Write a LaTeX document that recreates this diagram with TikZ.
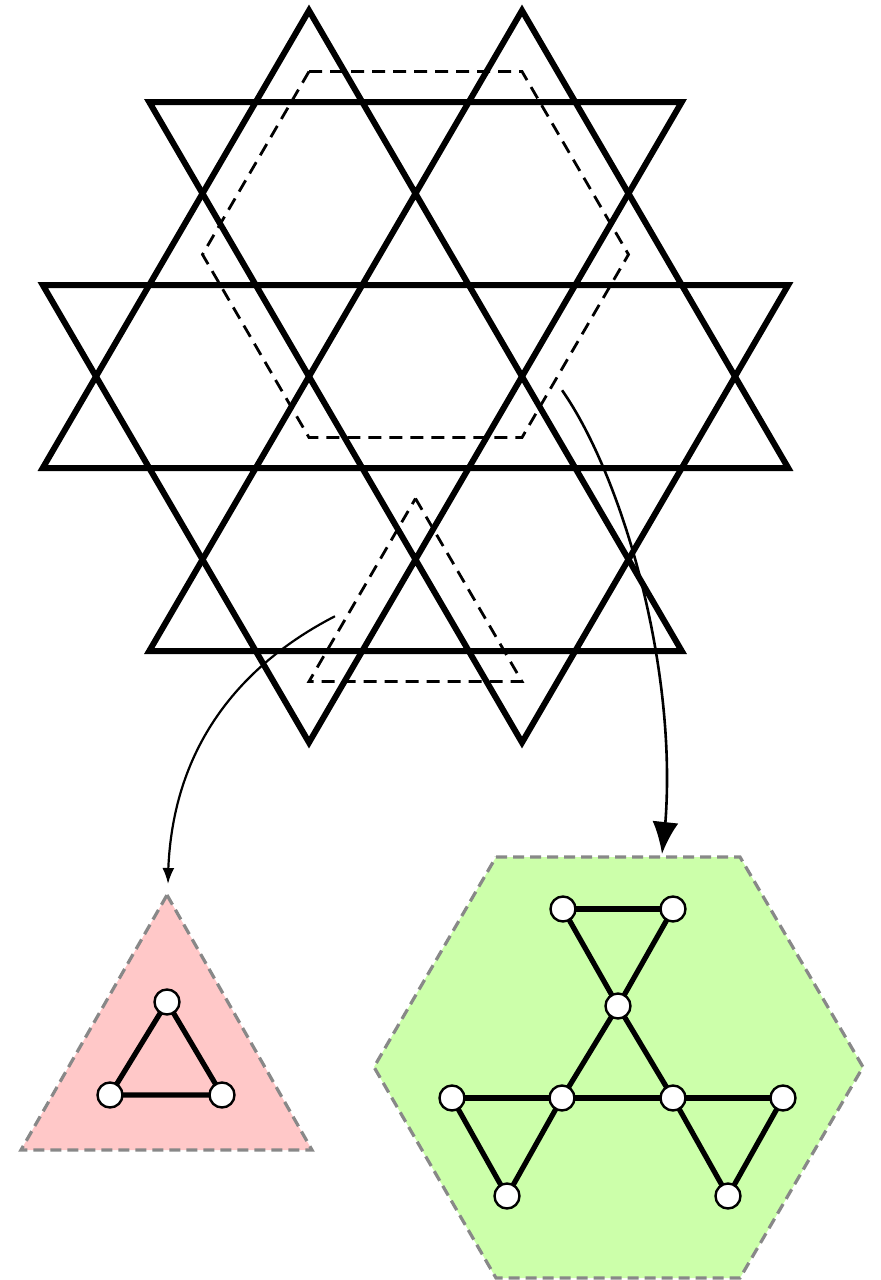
\documentclass[tikz,border=0pt]{standalone}
\usetikzlibrary{arrows.meta,bending}
\definecolor{pinkfill}{RGB}{255,200,200}
\definecolor{greenfill}{RGB}{204,255,170}
\definecolor{bordergray}{RGB}{136,136,136}
\pgfdeclarelayer{bg}
\pgfsetlayers{bg,main}
\begin{document}
\begin{tikzpicture}[x=0.5pt,y=-0.5pt,
  latline/.style={line width=3pt, line join=miter},
  guide/.style={line width=1.4pt, dash pattern=on 6.5pt off 4pt},
  region/.style={draw=bordergray, line width=1.6pt, dash pattern=on 5.5pt off 3pt},
  site/.style={circle, draw=black, fill=white, line width=1.2pt, minimum size=12.5pt, inner sep=0pt},
  bond/.style={line width=2.6pt},
  link/.style={line width=1.1pt}
]
\useasboundingbox (0,0) rectangle (880,1280);
% lattice
\begin{scope}[shift={(415.5,376.5)}, x=53.25pt, y=45.75pt]
  \draw[latline] (-1,4) -- (-3.5,-1) -- (3.5,-1) -- (1,4) -- (-2.5,-3) -- (2.5,-3) -- cycle;
  \draw[latline] (2.5,3) -- (-1,-4) -- (-3.5,1) -- (3.5,1) -- (1,-4) -- (-2.5,3) -- cycle;
  \draw[guide] (-1,10/3) -- (1,10/3) -- (2,4/3) -- (1,-2/3) -- (-1,-2/3) -- (-2,4/3) -- cycle;
  \draw[guide] (0,-4/3) -- (1,-10/3) -- (-1,-10/3) -- cycle;
  \coordinate (src1) at (-0.756,-2.62);
  \coordinate (src2) at (1.376,-0.15);
\end{scope}
% sites
\node[site] (t1) at (167,1002) {};
\node[site] (t2) at (110,1095) {};
\node[site] (t3) at (222,1095) {};
\node[site] (g1) at (563,909) {};
\node[site] (g2) at (673,909) {};
\node[site] (g3) at (618,1006) {};
\node[site] (g4) at (452,1098) {};
\node[site] (g5) at (562,1098) {};
\node[site] (g6) at (673,1098) {};
\node[site] (g7) at (783,1098) {};
\node[site] (g8) at (507,1196) {};
\node[site] (g9) at (728,1196) {};
\begin{pgfonlayer}{bg}
  \path[region, fill=pinkfill] (167,895) -- (312,1150) -- (21,1150) -- cycle;
  \path[region, fill=greenfill] (496,857) -- (740,857) -- (863,1067) -- (740,1278) -- (496,1278) -- (374,1067) -- cycle;
  \draw[bond] (t1.center) -- (t2.center) -- (t3.center) -- cycle;
  \draw[bond] (g1.center) -- (g2.center);
  \draw[bond] (g1.center) -- (g3.center);
  \draw[bond] (g2.center) -- (g3.center);
  \draw[bond] (g3.center) -- (g5.center);
  \draw[bond] (g3.center) -- (g6.center);
  \draw[bond] (g4.center) -- (g5.center);
  \draw[bond] (g5.center) -- (g6.center);
  \draw[bond] (g6.center) -- (g7.center);
  \draw[bond] (g4.center) -- (g8.center);
  \draw[bond] (g5.center) -- (g8.center);
  \draw[bond] (g6.center) -- (g9.center);
  \draw[bond] (g7.center) -- (g9.center);
\end{pgfonlayer}
% arrows
\coordinate (dst1) at (168,884);
\coordinate (dst2) at (662,854);
\draw[link, -{Latex[length=8pt,width=6pt]}] (src1) .. controls (250,660) and (168,740) .. (dst1);
\draw[line width=1.3pt, -{Latex[length=16pt,width=13pt]}] (src2) .. controls (625,480) and (685,690) .. (dst2);
\end{tikzpicture}
\end{document}
